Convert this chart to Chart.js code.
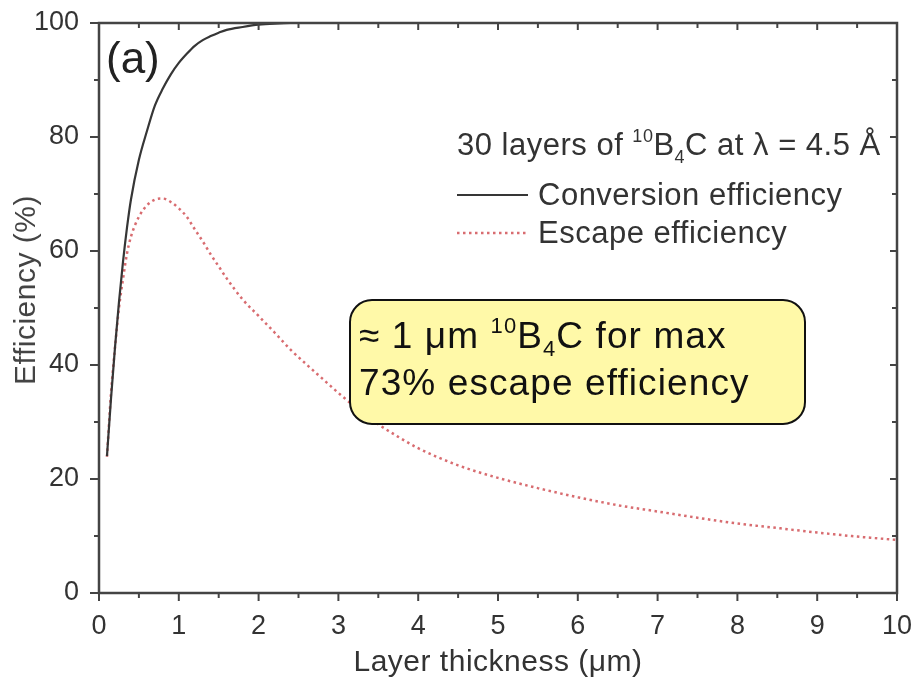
<!DOCTYPE html>
<html>
<head>
<meta charset="utf-8">
<script src="https://cdn.jsdelivr.net/npm/chart.js@4.4.1/dist/chart.umd.min.js"></script>
<style>
  html, body { margin: 0; padding: 0; background: #ffffff; }
  #wrap { width: 914px; height: 678px; position: relative; }
</style>
</head>
<body>
<div id="wrap"><canvas id="c" width="914" height="678"></canvas></div>
<script>
// ---- data ----
const thickness = [0.1, 0.15, 0.2, 0.25, 0.3, 0.35, 0.4, 0.5, 0.6, 0.7, 0.8, 0.9, 1.0, 1.1, 1.2, 1.3, 1.4, 1.5, 1.6, 1.8, 2.0, 2.2, 2.4, 2.6, 2.8, 3.0, 3.25, 3.5, 3.75, 4.0, 4.5, 5.0, 5.5, 6.0, 6.5, 7.0, 7.5, 8.0, 8.5, 9.0, 9.5, 10.0];
const conversionEff = [24, 34, 43, 51, 58, 64, 69, 76, 81, 85.5, 88.5, 91, 93, 94.6, 96, 97, 97.7, 98.3, 98.8, 99.3, 99.7, 99.9, 100, 100, 100, 100, 100, 100, 100, 100, 100, 100, 100, 100, 100, 100, 100, 100, 100, 100, 100, 100];
const escapeEff = [23.9, 35, 43, 50, 55, 59.5, 62.5, 66, 68, 69, 69.2, 68.6, 67.5, 66, 63.8, 61.7, 59.4, 57.3, 55.2, 51.5, 48.6, 45.7, 42.7, 40.1, 37.6, 35.1, 32.2, 29.6, 27.4, 25.4, 22.4, 20.2, 18.4, 16.8, 15.4, 14.3, 13.2, 12.2, 11.4, 10.6, 9.9, 9.3];
const seriesNames = ['Conversion efficiency', 'Escape efficiency'];
const xTickValues = [0, 1, 2, 3, 4, 5, 6, 7, 8, 9, 10];
const yTickValues = [0, 20, 40, 60, 80, 100];
const xMinorValues = [0.5, 1.5, 2.5, 3.5, 4.5, 5.5, 6.5, 7.5, 8.5, 9.5];
const yMinorValues = [10, 30, 50, 70, 90];
const xAxisTitle = 'Layer thickness (μm)';
const yAxisTitle = 'Efficiency (%)';
const panelLabel = '(a)';

const FONT = "'Liberation Sans', Arial, sans-serif";
const TXT = '#333333';
const AXIS = '#444444';

function drawRich(ctx, pieces, x, y, color, spacing) {
  ctx.textAlign = 'left';
  ctx.textBaseline = 'alphabetic';
  ctx.fillStyle = color;
  ctx.letterSpacing = (spacing || 0) + 'px';
  for (const p of pieces) {
    ctx.font = p.s + 'px ' + FONT;
    ctx.fillText(p.t, x, y + (p.dy || 0));
    x += ctx.measureText(p.t).width;
  }
  ctx.letterSpacing = '0px';
}
function seg(ctx, x1, y1, x2, y2) { ctx.beginPath(); ctx.moveTo(x1, y1); ctx.lineTo(x2, y2); ctx.stroke(); }

const decor = {
  id: 'decor',
  afterDatasetsDraw(chart) {
    const { ctx, chartArea: a, scales: { x, y } } = chart;
    ctx.save();

    // annotation box (drawn over the curve)
    const bx = 350, by = 300, bw = 455, bh = 124, r = 22;
    ctx.beginPath();
    ctx.moveTo(bx + r, by);
    ctx.arcTo(bx + bw, by, bx + bw, by + bh, r);
    ctx.arcTo(bx + bw, by + bh, bx, by + bh, r);
    ctx.arcTo(bx, by + bh, bx, by, r);
    ctx.arcTo(bx, by, bx + bw, by, r);
    ctx.closePath();
    ctx.fillStyle = '#fff9a8';
    ctx.fill();
    ctx.lineWidth = 2;
    ctx.strokeStyle = '#111111';
    ctx.stroke();
    drawRich(ctx, [
      { t: '≈ 1 μm ', s: 37 }, { t: '10', s: 22, dy: -15 }, { t: 'B', s: 37 },
      { t: '4', s: 22, dy: 8 }, { t: 'C for max', s: 37 }
    ], 359, 348, '#111111', 1.1);
    drawRich(ctx, [{ t: '73% escape efficiency', s: 37 }], 359, 395, '#111111', 1.1);

    // frame
    ctx.strokeStyle = AXIS;
    ctx.lineWidth = 2.5;
    ctx.strokeRect(a.left, a.top, a.right - a.left, a.bottom - a.top);

    // ticks
    ctx.lineWidth = 2;
    for (const v of xTickValues) {
      const px = x.getPixelForValue(v);
      seg(ctx, px, a.bottom, px, a.bottom + 8);
      seg(ctx, px, a.top, px, a.top + 7);
    }
    for (const v of xMinorValues) {
      const px = x.getPixelForValue(v);
      seg(ctx, px, a.bottom, px, a.bottom + 5);
      seg(ctx, px, a.top, px, a.top + 5);
    }
    for (const v of yTickValues) {
      const py = y.getPixelForValue(v);
      seg(ctx, a.left - 9, py, a.left, py);
      seg(ctx, a.right - 7, py, a.right, py);
    }
    for (const v of yMinorValues) {
      const py = y.getPixelForValue(v);
      seg(ctx, a.left - 5, py, a.left, py);
      seg(ctx, a.right - 5, py, a.right, py);
    }

    // axis titles
    ctx.fillStyle = TXT;
    ctx.font = '30px ' + FONT;
    ctx.letterSpacing = '0.5px';
    ctx.textAlign = 'center';
    ctx.textBaseline = 'alphabetic';
    ctx.fillText(xAxisTitle, (a.left + a.right) / 2, 671);
    ctx.save();
    ctx.translate(27, 290);
    ctx.rotate(-Math.PI / 2);
    ctx.textBaseline = 'middle';
    ctx.fillStyle = '#444444';
    ctx.font = '30px ' + FONT;
    ctx.fillText(yAxisTitle, 0, 0);
    ctx.restore();
    ctx.letterSpacing = '0px';

    // panel label
    ctx.fillStyle = '#222222';
    ctx.font = '44px ' + FONT;
    ctx.textAlign = 'left';
    ctx.textBaseline = 'alphabetic';
    ctx.fillText(panelLabel, 106, 73);

    // legend
    drawRich(ctx, [
      { t: '30 layers of ', s: 31 }, { t: '10', s: 18, dy: -13 }, { t: 'B', s: 31 },
      { t: '4', s: 18, dy: 8 }, { t: 'C at λ = 4.5 Å', s: 31 }
    ], 457, 155, TXT, 0.5);
    const ds = chart.data.datasets;
    const rows = [195, 233];
    ds.forEach((d, i) => {
      ctx.strokeStyle = d.borderColor;
      ctx.lineWidth = d.borderWidth;
      ctx.setLineDash(d.borderDash || []);
      seg(ctx, 457, rows[i], 528, rows[i]);
      ctx.setLineDash([]);
      drawRich(ctx, [{ t: d.label, s: 31 }], 538, rows[i] + 10, TXT, 0.5);
    });

    ctx.restore();
  }
};

new Chart(document.getElementById('c'), {
  type: 'line',
  data: {
    datasets: [
      {
        label: seriesNames[0],
        data: thickness.map((t, i) => ({ x: t, y: conversionEff[i] })),
        borderColor: '#363636',
        borderWidth: 2.2,
        pointRadius: 0,
        cubicInterpolationMode: 'monotone',
        fill: false
      },
      {
        label: seriesNames[1],
        data: thickness.map((t, i) => ({ x: t, y: escapeEff[i] })),
        borderColor: 'rgba(212, 92, 96, 0.9)',
        borderWidth: 2.5,
        borderDash: [2.5, 3.5],
        pointRadius: 0,
        cubicInterpolationMode: 'monotone',
        fill: false
      }
    ]
  },
  options: {
    responsive: false,
    animation: false,
    devicePixelRatio: 1,
    layout: { padding: { top: 23, right: 17, left: 0, bottom: 0 } },
    plugins: { legend: { display: false }, tooltip: { enabled: false } },
    scales: {
      x: {
        type: 'linear', min: 0, max: 10,
        afterBuildTicks: s => { s.ticks = xTickValues.map(v => ({ value: v })); },
        afterFit: s => { s.height = 85; s.paddingLeft = 0; s.paddingRight = 0; },
        grid: { display: false },
        border: { display: false },
        ticks: { color: TXT, font: { family: FONT, size: 27 }, padding: 9, maxRotation: 0, autoSkip: false }
      },
      y: {
        type: 'linear', min: 0, max: 100,
        afterBuildTicks: s => { s.ticks = yTickValues.map(v => ({ value: v })); },
        afterFit: s => { s.width = 99; s.paddingTop = 0; s.paddingBottom = 0; },
        grid: { display: false },
        border: { display: false },
        ticks: { color: TXT, font: { family: FONT, size: 27 }, padding: 12, autoSkip: false }
      }
    }
  },
  plugins: [decor]
});
</script>
</body>
</html>
